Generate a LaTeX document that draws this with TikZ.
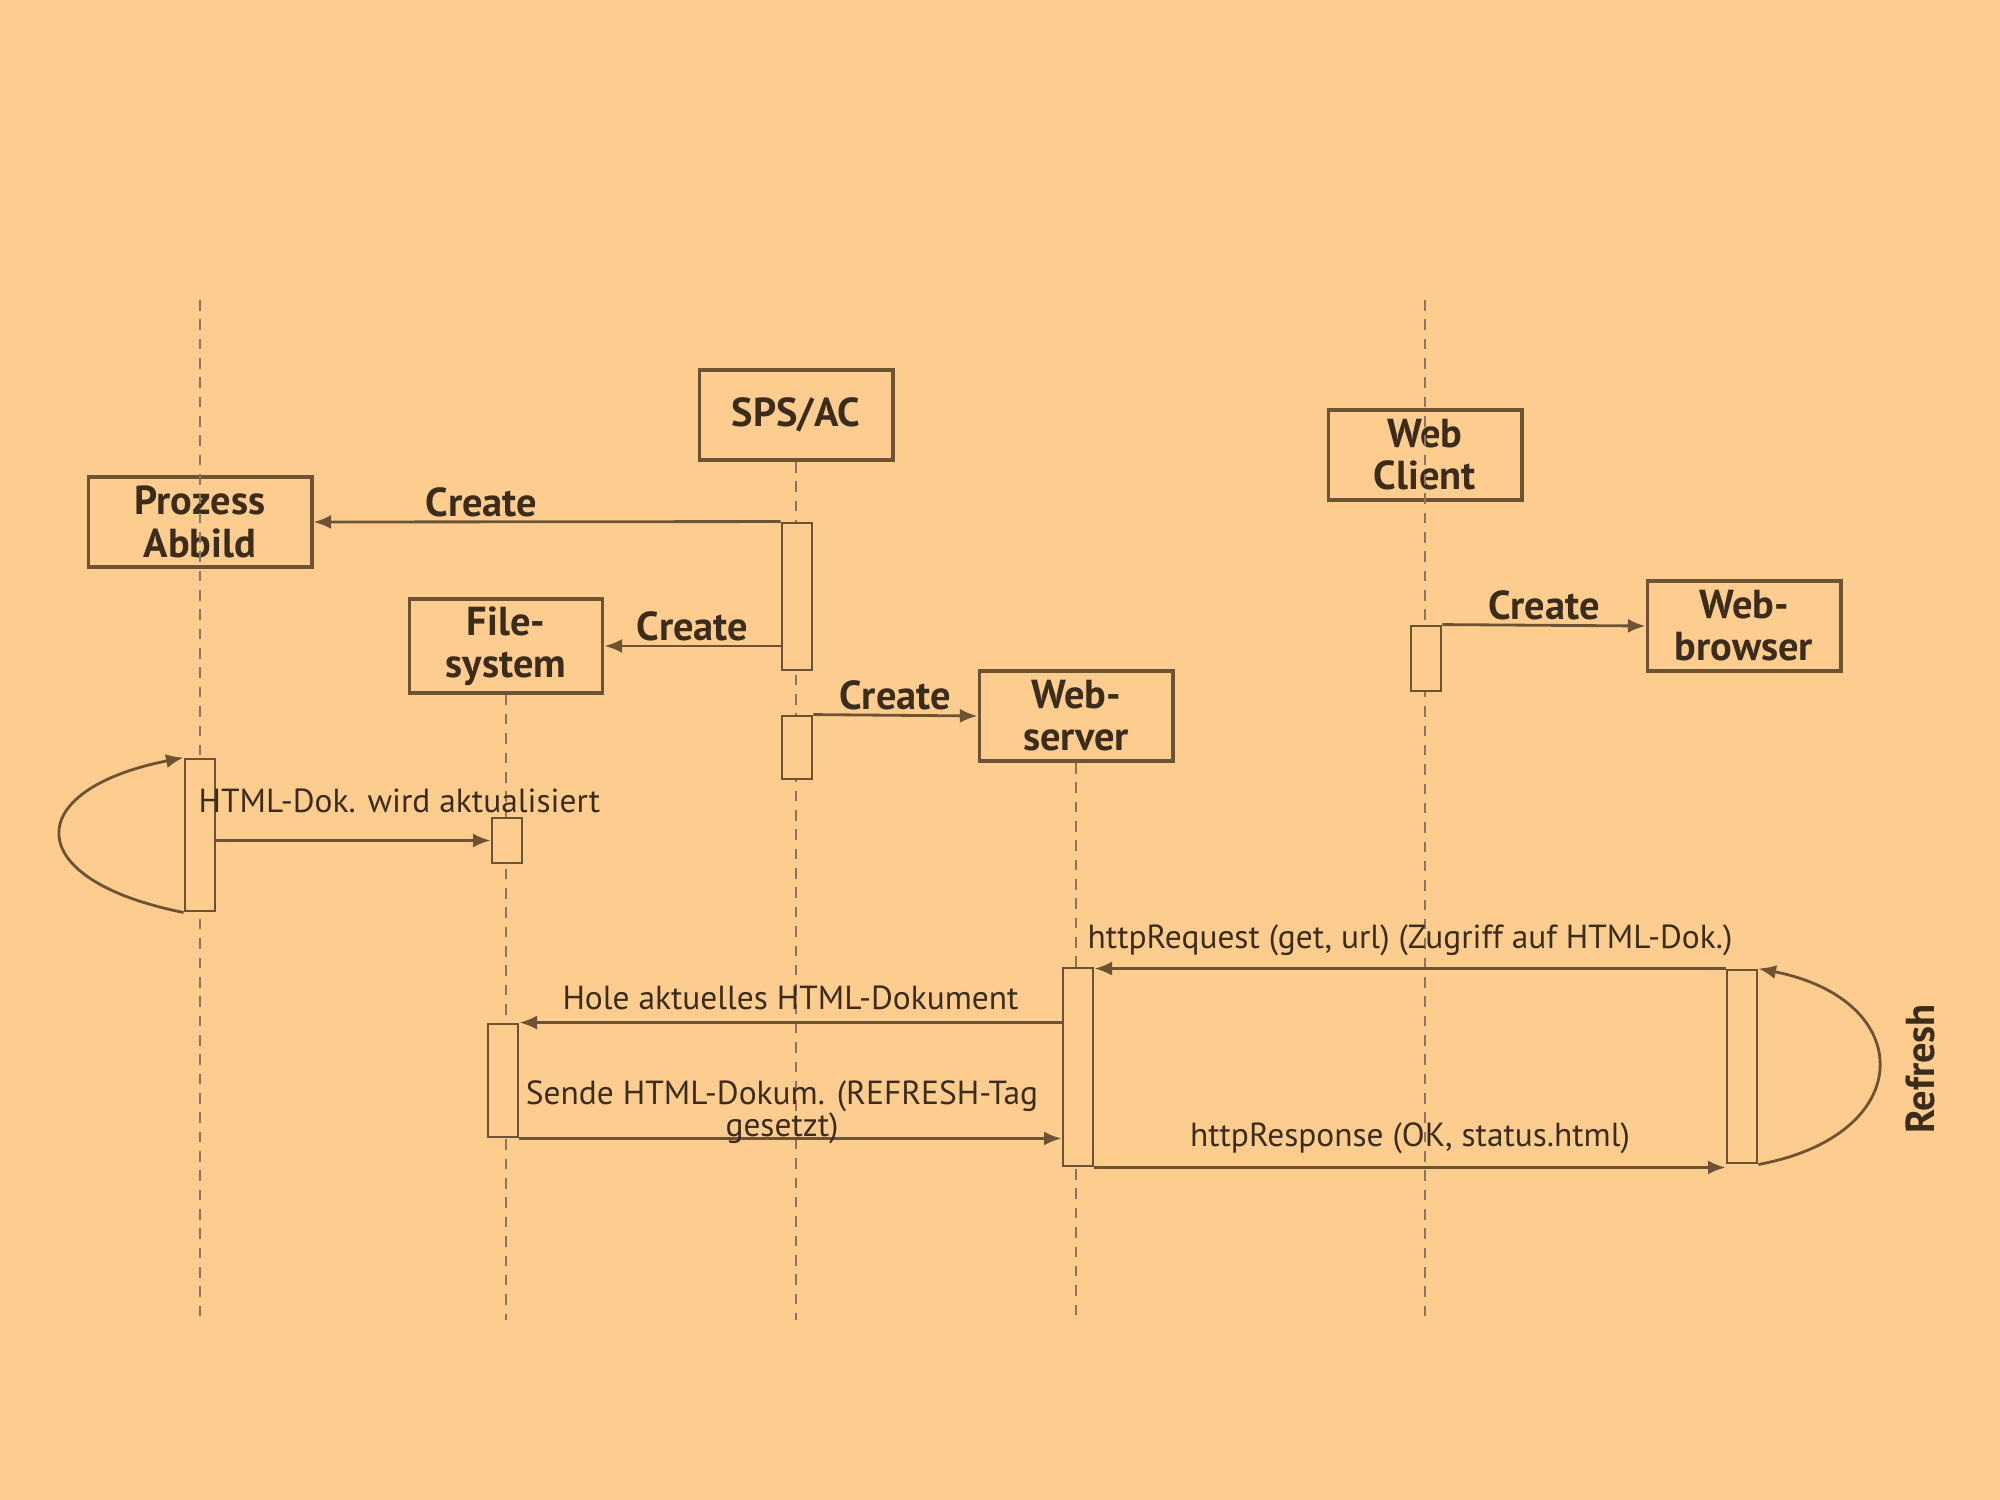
\documentclass[tikz,border=0pt]{standalone}
\usepackage{fontspec}
\setmainfont{PT Sans}
\usetikzlibrary{positioning,arrows.meta}
\definecolor{sdbg}{RGB}{252,205,143}
\definecolor{sdline}{RGB}{110,82,52}
\definecolor{sdtext}{RGB}{60,44,28}

\begin{document}
\begin{tikzpicture}[
      x=0.01cm, y=-0.01cm,
      font=\fontsize{9.5}{10}\selectfont, text=sdtext,
      box/.style={
        draw=sdline, line width=1.1pt, align=center,
        minimum width=1.93cm, minimum height=0.9cm, inner sep=2pt,
        font=\fontsize{11.5}{12}\selectfont\bfseries
      },
      bar/.style={draw=sdline, line width=0.8pt, fill=sdbg, minimum width=0.3cm, inner sep=0pt},
      life/.style={sdline!80, line width=0.6pt, dash pattern=on 3pt off 2.5pt},
      msg/.style={-{Latex[length=5pt,width=4pt]}, sdline, line width=0.8pt},
      lbl/.style={text=sdtext},
      crt/.style={font=\fontsize{11.5}{12}\selectfont\bfseries, inner sep=1pt, text=sdtext}
    ]
      \fill[sdbg] (0,0) rectangle (2000,1500);
      \useasboundingbox (0,0) rectangle (2000,1500);
      \coordinate (top) at (0,300);
      \coordinate (bottom) at (0,1320);

      % objects
      \node[box, minimum width=2.23cm] (prozess) at (200,522) {Prozess\\Abbild};
      \node[box] (sps) at (796,415) {SPS/AC};
      \node[box] (fsys) at (506,646) {File-\\system};
      \node[box] (wserver) at (1076,716) {Web-\\server};
      \node[box] (wclient) at (1425,455) {Web\\Client};
      \node[box] (wbrowser) at (1744,626) {Web-\\browser};

      % lifelines
      \draw[life] (prozess.north |- top) -- (prozess.south |- bottom);
      \draw[life] (fsys.south) -- (fsys.south |- bottom);
      \draw[life] (sps.south) -- (sps.south |- bottom);
      \draw[life] (wserver.south) -- (wserver.south |- bottom);
      \draw[life] (wclient.north |- top) -- (wclient.south |- bottom);

      % activations
      \node[bar, minimum height=1.47cm] (spsA) at (797,596.5) {};
      \node[bar, minimum height=0.63cm] (spsB) at (797,747.5) {};
      \node[bar, minimum height=0.65cm] (clbar) at (1426,658.5) {};
      \node[bar, minimum height=1.52cm] (prbar) at (200,835) {};
      \node[bar, minimum height=0.45cm] (fsA) at (507,840.5) {};
      \node[bar, minimum height=1.13cm] (fsB) at (503,1080.5) {};
      \node[bar, minimum height=1.98cm] (wsbar) at (1078,1067) {};
      \node[bar, minimum height=1.93cm] (brbar) at (1742,1066.5) {};

      % create messages
      \draw[msg] (spsA.north west) -- node[crt, above, pos=0.64] {Create} (prozess.east);
      \draw[msg] (fsys.east -| spsA.west) -- node[crt, above] {Create} (fsys.east);
      \draw[msg] (spsB.north east) -- node[crt, above] {Create} (wserver.west);
      \draw[msg] (clbar.north east) -- node[crt, above] {Create} (wbrowser.west);

      % update
      \draw[msg] (prbar.south west) .. controls (20,880) and (20,790) .. (prbar.north west);
      \draw[msg] (prbar.east |- fsA.west) -- (fsA.west);
      \node[lbl, anchor=west, inner sep=0pt] (lblupd) at (198,801) {HTML-Dok. wird aktualisiert};

      % request / response
      \draw[msg] (brbar.north west) -- node[lbl, above] {httpRequest (get, url) (Zugriff auf HTML-Dok.)} (brbar.north west -| wsbar.east);
      \draw[msg] (wsbar.west |- fsB.north east) -- node[lbl, above] {Hole aktuelles HTML-Dokument} (fsB.north east);
      \draw[msg] (fsB.south east) -- (fsB.south east -| wsbar.west);
      \node[lbl, align=center, inner sep=0pt, font=\fontsize{9.5}{9}\selectfont] (lblsend) at (782,1112)
        {Sende HTML-Dokum. (REFRESH-Tag\\gesetzt)};
      \draw[msg] (wsbar.south east) -- node[lbl, above] {httpResponse (OK, status.html)} (wsbar.south east -| brbar.west);
      \draw[msg] (brbar.south east) .. controls (1918,1135) and (1918,1000) .. (brbar.north east);
      \node[crt, rotate=90] (lblrefresh) at (1920,1069) {Refresh};
    \end{tikzpicture}
\end{document}
